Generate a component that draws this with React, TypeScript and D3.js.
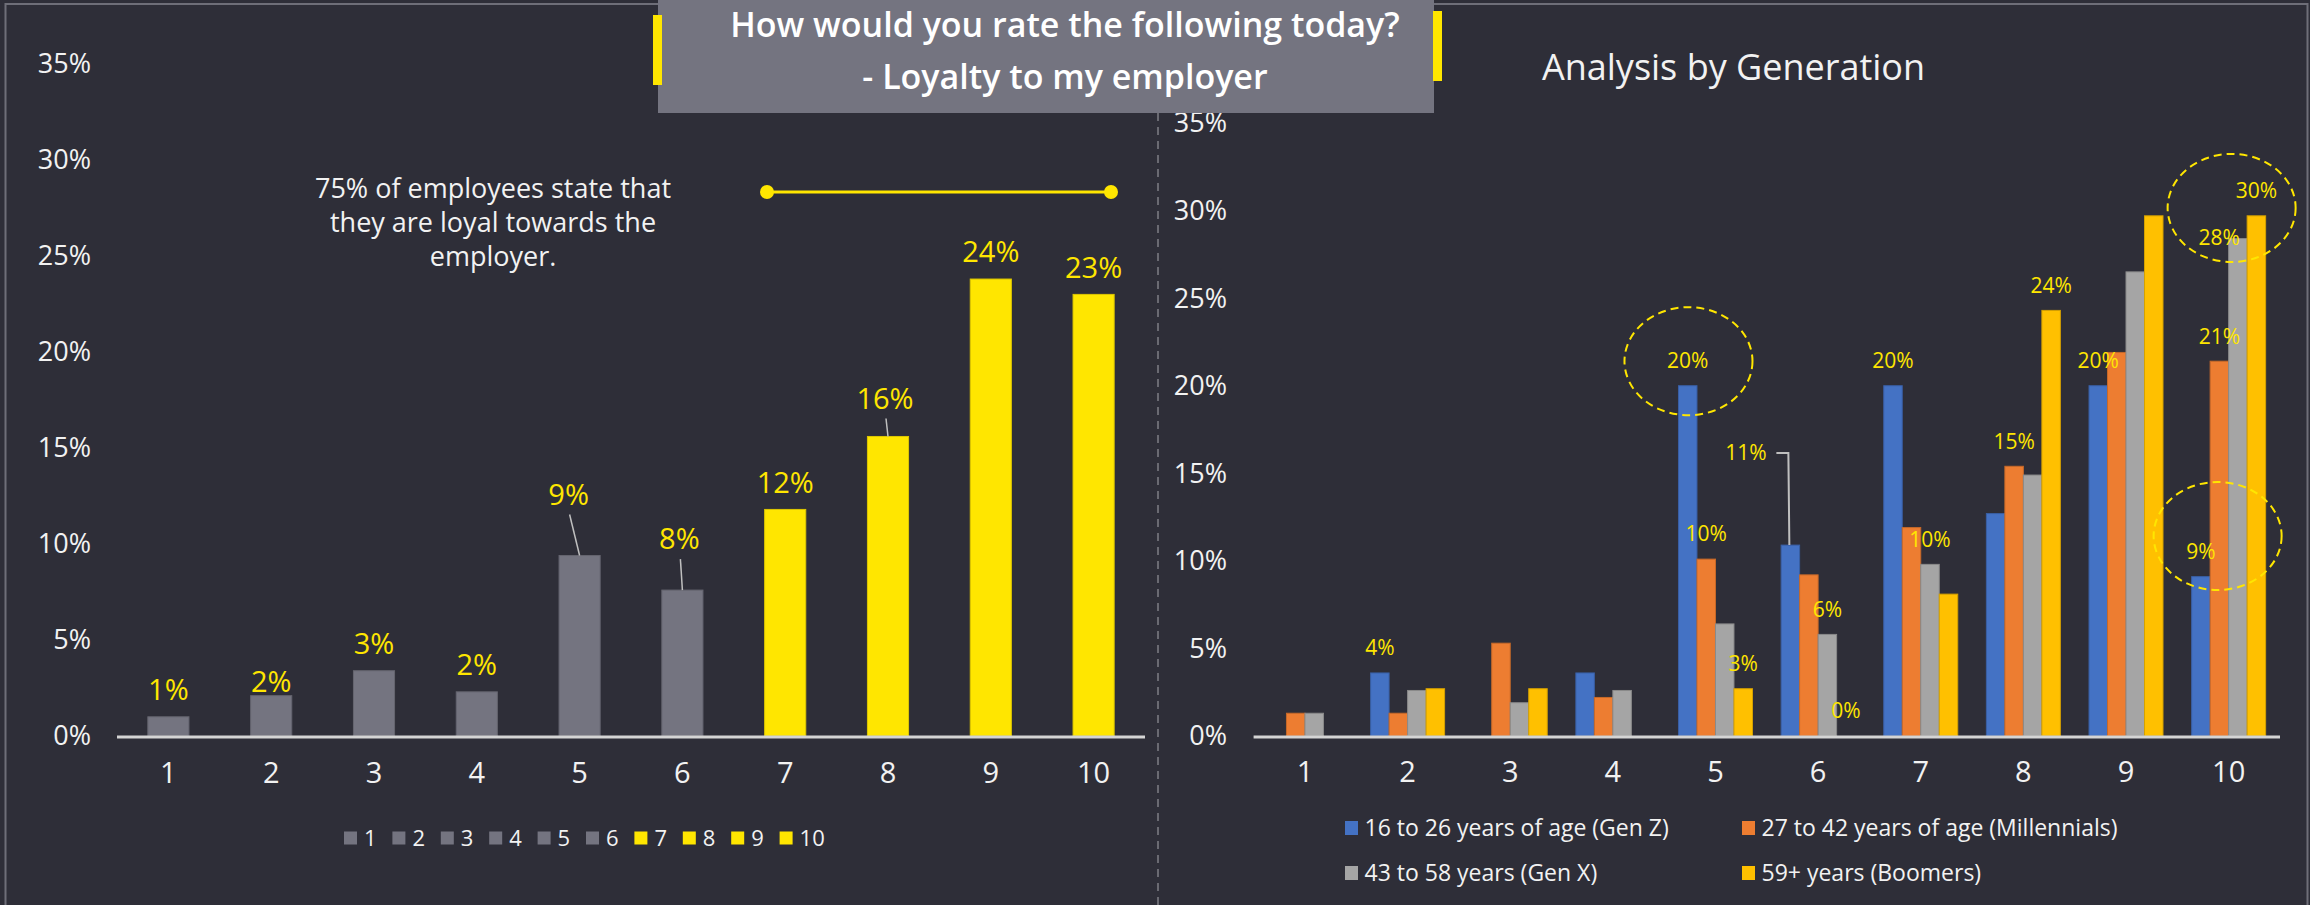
import React from 'react';
import * as d3 from 'd3';

const W = 2310;
const H = 905;

// ---------- data ----------
const ratings = ['1', '2', '3', '4', '5', '6', '7', '8', '9', '10'];
const overallShare = [1.0, 2.1, 3.4, 2.3, 9.4, 7.6, 11.8, 15.6, 23.8, 23.0];
const loyalRatings = ['7', '8', '9', '10'];
const yTicks = [0, 5, 10, 15, 20, 25, 30, 35];

const generations = [
  '16 to 26 years of age (Gen Z)',
  '27 to 42 years of age (Millennials)',
  '43 to 58 years (Gen X)',
  '59+ years (Boomers)',
];
const genZ = [0, 3.6, 0, 3.6, 20.0, 10.9, 20.0, 12.7, 20.0, 9.1];
const millennials = [1.3, 1.3, 5.3, 2.2, 10.1, 9.2, 11.9, 15.4, 21.9, 21.4];
const genX = [1.3, 2.6, 1.9, 2.6, 6.4, 5.8, 9.8, 14.9, 26.5, 28.4];
const boomers = [0, 2.7, 2.7, 0, 2.7, 0, 8.1, 24.3, 29.7, 29.7];
const genSeries = [genZ, millennials, genX, boomers];

// which generation bars carry a value label: [rating index, series index]
const labeledGenBars: [number, number][] = [
  [1, 0], [4, 0], [4, 1], [4, 3], [5, 0], [5, 2], [5, 3],
  [6, 0], [6, 2], [7, 1], [7, 3], [8, 0], [9, 0], [9, 1], [9, 2], [9, 3],
];

const titleLines = ['How would you rate the following today?', '- Loyalty to my employer'];
const annotationLines = ['75% of employees state that', 'they are loyal towards the', 'employer.'];
const rightTitle = 'Analysis by Generation';

// ---------- style ----------
const FONT = "'Open Sans', sans-serif";
const BG = '#2e2e38';
const GREY = '#747480';
const YELLOW = '#ffe600';
const TEXT = '#f2f2f2';
const genColors = ['#4472c4', '#ed7d31', '#a5a5a5', '#ffc000'];

const pct = d3.format('.0%');

// label placement tweaks (annotation styling, not data)
const leftLabelAdjust: Record<number, { dx: number; dy: number; leader?: boolean }> = {
  1: { dx: 0, dy: 13 },
  4: { dx: -11, dy: -34, leader: true },
  5: { dx: -3, dy: -24, leader: true },
  7: { dx: -3, dy: -11, leader: true },
};
const rightLabelAdjust: Record<string, { dx: number; dy: number; elbow?: boolean }> = {
  '9-2': { dx: -18.6, dy: 24 },
  '5-0': { dx: -44.4, dy: -67, elbow: true },
};
// dashed ellipses: [rating, value %, dx]
const highlightEllipses: [string, number, number][] = [
  ['5', 21.4, -27],
  ['10', 30.15, 3],
  ['10', 11.42, -11],
];

export default function App() {
  // left chart scales
  const xL = d3.scaleBand<string>().domain(ratings).range([117, 1145]).paddingInner(0.6).paddingOuter(0.3);
  const yL = d3.scaleLinear().domain([0, 0.35]).range([736, 64]);

  // right chart scales
  const xR = d3.scaleBand<string>().domain(ratings).range([1253.6, 2280]).paddingInner(0.279).paddingOuter(0.14);
  const xS = d3.scaleBand<number>().domain([0, 1, 2, 3]).range([0, xR.bandwidth()]);
  const yR = d3.scaleLinear().domain([0, 0.35]).range([736, 123]);

  return (
    <svg
      width={W}
      height={H}
      style={{ position: 'absolute', left: 0, top: 0, display: 'block', background: BG }}
      fontFamily={FONT}
    >
      <rect x={0} y={0} width={W} height={H} fill={BG} />
      {/* frame */}
      <rect x={5.5} y={4} width={2302} height={H + 10} fill="none" stroke="#6e6e78" strokeWidth={2} />
      {/* divider */}
      <line x1={1158} x2={1158} y1={113} y2={H} stroke="#6a6a72" strokeWidth={2} strokeDasharray="8 6" />

      {/* ---------- left chart ---------- */}
      <g>
        {yTicks.map((t) => (
          <text key={t} x={91} y={yL(t / 100)} dy="0.35em" textAnchor="end" fontSize={27} fill={TEXT}>
            {t}%
          </text>
        ))}
        {ratings.map((r, i) => {
          const v = overallShare[i] / 100;
          const color = loyalRatings.includes(r) ? YELLOW : GREY;
          return (
            <rect
              key={r}
              x={xL(r)}
              y={yL(v)}
              width={xL.bandwidth()}
              height={yL(0) - yL(v)}
              fill={color}
              stroke={d3.color(color)!.darker(0.4).toString()}
              strokeWidth={1}
            />
          );
        })}
        <line x1={117} x2={1145} y1={737} y2={737} stroke="#d4d4d4" strokeWidth={3} />
        {ratings.map((r, i) => {
          const v = overallShare[i] / 100;
          const cx = xL(r)! + xL.bandwidth() / 2;
          const top = yL(v);
          const adj = leftLabelAdjust[i] || { dx: 0, dy: 0 };
          const lx = cx + adj.dx;
          const ly = top - 27 + adj.dy;
          return (
            <g key={r}>
              {adj.leader && (
                <line x1={lx + 1} y1={ly + 20} x2={cx} y2={top} stroke="#bfbfbf" strokeWidth={1.5} />
              )}
              <text x={lx} y={ly} dy="0.35em" textAnchor="middle" fontSize={29} fill={YELLOW}>
                {pct(v)}
              </text>
            </g>
          );
        })}
        {ratings.map((r) => (
          <text key={r} x={xL(r)! + xL.bandwidth() / 2} y={773} dy="0.35em" textAnchor="middle" fontSize={29} fill={TEXT}>
            {r}
          </text>
        ))}
        {/* legend */}
        {ratings.map((r, i) => {
          const x = 344 + i * 48.4;
          return (
            <g key={r}>
              <rect x={x} y={831.5} width={13} height={13} fill={loyalRatings.includes(r) ? YELLOW : GREY} />
              <text x={x + 20} y={838} dy="0.35em" fontSize={22} fill={TEXT}>
                {r}
              </text>
            </g>
          );
        })}
        {/* annotation */}
        {annotationLines.map((l, i) => (
          <text key={i} x={493} y={189 + i * 34} dy="0.35em" textAnchor="middle" fontSize={27} fill={TEXT}>
            {l}
          </text>
        ))}
        <line x1={767} x2={1111} y1={192} y2={192} stroke={YELLOW} strokeWidth={3} />
        <circle cx={767} cy={192} r={7} fill={YELLOW} />
        <circle cx={1111} cy={192} r={7} fill={YELLOW} />
      </g>

      {/* ---------- right chart ---------- */}
      <g>
        {yTicks.map((t) => (
          <text key={t} x={1227} y={yR(t / 100)} dy="0.35em" textAnchor="end" fontSize={27} fill={TEXT}>
            {t}%
          </text>
        ))}
        {ratings.map((r, i) => (
          <g key={r} transform={`translate(${xR(r)},0)`}>
            {genSeries.map((s, k) => {
              const v = s[i] / 100;
              if (v <= 0) return null;
              return (
                <rect
                  key={k}
                  x={xS(k)}
                  y={yR(v)}
                  width={xS.bandwidth()}
                  height={yR(0) - yR(v)}
                  fill={genColors[k]}
                  stroke={d3.color(genColors[k])!.darker(0.5).toString()}
                  strokeWidth={1}
                />
              );
            })}
          </g>
        ))}
        <line x1={1253.6} x2={2280} y1={737} y2={737} stroke="#d4d4d4" strokeWidth={3} />
        {labeledGenBars.map(([i, k]) => {
          const v = genSeries[k][i] / 100;
          const cx = xR(ratings[i])! + xS(k)! + xS.bandwidth() / 2;
          const top = yR(v);
          const adj = rightLabelAdjust[`${i}-${k}`] || { dx: 0, dy: 0 };
          const lx = cx + adj.dx;
          const ly = top - 25 + adj.dy;
          return (
            <g key={`${i}-${k}`}>
              {adj.elbow && (
                <polyline
                  points={`${cx - 14},${ly} ${cx - 2},${ly} ${cx - 1},${top}`}
                  fill="none"
                  stroke="#bfbfbf"
                  strokeWidth={2}
                />
              )}
              <text x={lx} y={ly} dy="0.35em" textAnchor="middle" fontSize={21} fill={YELLOW}>
                {pct(v)}
              </text>
            </g>
          );
        })}
        {highlightEllipses.map(([r, v, dx], j) => (
          <ellipse
            key={j}
            cx={xR(r)! + xR.bandwidth() / 2 + dx}
            cy={yR(v / 100)}
            rx={64}
            ry={54}
            fill="none"
            stroke={YELLOW}
            strokeWidth={2}
            strokeDasharray="8 5"
          />
        ))}
        {ratings.map((r) => (
          <text key={r} x={xR(r)! + xR.bandwidth() / 2} y={772} dy="0.35em" textAnchor="middle" fontSize={29} fill={TEXT}>
            {r}
          </text>
        ))}
        {generations.map((g, k) => {
          const x = k % 2 === 0 ? 1345 : 1742;
          const y = k < 2 ? 828 : 873;
          return (
            <g key={g}>
              <rect x={x} y={y - 7} width={13} height={14} fill={genColors[k]} />
              <text x={x + 19.5} y={y} dy="0.35em" fontSize={23} fill={TEXT}>
                {g}
              </text>
            </g>
          );
        })}
        <text x={1733.5} y={67} dy="0.35em" textAnchor="middle" fontSize={36} fill={TEXT}>
          {rightTitle}
        </text>
      </g>

      {/* ---------- title box ---------- */}
      <rect x={658} y={0} width={776} height={113} fill={GREY} />
      <rect x={653} y={15} width={9} height={70} fill={YELLOW} />
      <rect x={1433} y={11} width={9} height={70} fill={YELLOW} />
      {titleLines.map((l, i) => (
        <text key={i} x={1065} y={25 + i * 52} dy="0.35em" textAnchor="middle" fontSize={34} fontWeight={600} fill="#ffffff">
          {l}
        </text>
      ))}
    </svg>
  );
}
